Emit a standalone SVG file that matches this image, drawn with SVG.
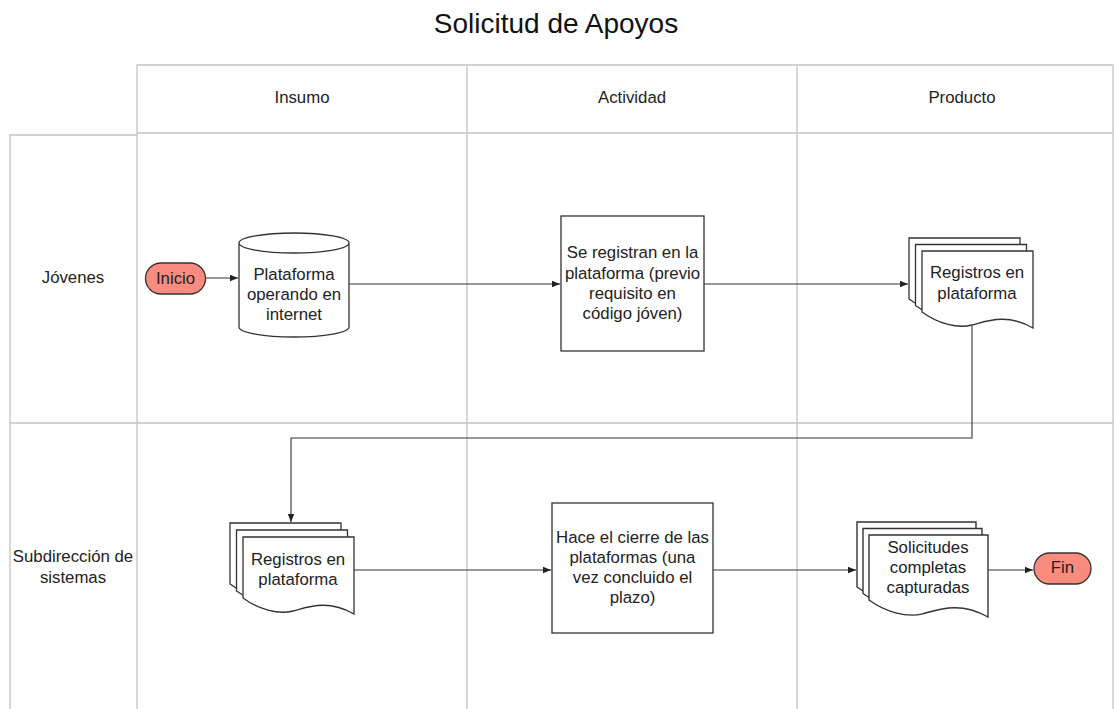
<svg xmlns="http://www.w3.org/2000/svg" xmlns:xlink="http://www.w3.org/1999/xlink" width="1114" height="709" viewBox="0 0 1114 709">
<style>
.grid{fill:none;stroke:#c4c4c4;stroke-width:1.3}
.shape{fill:#fff;stroke:#333;stroke-width:1.3}
.pill{fill:#fa8b7f;stroke:#333;stroke-width:1.3}
.t{font-family:"Liberation Sans",Arial,sans-serif;font-size:16.8px;fill:#222;text-anchor:middle}
.title{font-family:"Liberation Sans",Arial,sans-serif;font-size:28px;fill:#111;text-anchor:middle}
.conn{fill:none;stroke:#333;stroke-width:1.1}
</style>
<defs>
<marker id="arr" viewBox="0 0 10 10" refX="10" refY="5" markerWidth="8" markerHeight="8" markerUnits="userSpaceOnUse" orient="auto">
<path d="M0,1 L10,5 L0,9 Z" fill="#222"/>
</marker>
<path id="doc" d="M0,0 H111 V77 C85,62 65,70 50,74 C35,78 15,72 0,61 Z"/>
</defs>
<rect width="1114" height="709" fill="#fff"/>
<text class="title" x="556" y="33">Solicitud de Apoyos</text>
<g id="grid">
<path class="grid" d="M137,709 V65 H1113 V709 M137,133 H1113 M467,65 V709 M797,65 V709 M10,709 V135 H137 M10,423 H1113"/>
<text class="t" x="302" y="103">Insumo</text>
<text class="t" x="632" y="103">Actividad</text>
<text class="t" x="962" y="103">Producto</text>
<text class="t" x="73" y="283">Jóvenes</text>
<text class="t" x="73" y="562">Subdirección de</text>
<text class="t" x="73" y="583">sistemas</text>
</g>
<g id="connectors">
<path class="conn" d="M205,278 H238" marker-end="url(#arr)"/>
<path class="conn" d="M349,284 H560" marker-end="url(#arr)"/>
<path class="conn" d="M704,284 H908" marker-end="url(#arr)"/>
<path class="conn" d="M972,326 V438 H291 V522" marker-end="url(#arr)"/>
<path class="conn" d="M353,570 H551" marker-end="url(#arr)"/>
<path class="conn" d="M713,570 H856" marker-end="url(#arr)"/>
<path class="conn" d="M988,570 H1033" marker-end="url(#arr)"/>
</g>
<g id="inicio">
<rect class="pill" x="145.5" y="263" width="60" height="31" rx="15.5"/>
<text class="t" x="175.5" y="284">Inicio</text>
</g>
<g id="plataforma">
<path class="shape" d="M239,243 A55,10 0 0 1 349,243 V327 A55,10 0 0 1 239,327 Z M239,243 A55,10 0 0 0 349,243"/>
<text class="t" x="294" y="280">Plataforma</text>
<text class="t" x="294" y="300">operando en</text>
<text class="t" x="294" y="320">internet</text>
</g>
<g id="registran">
<rect class="shape" x="561" y="216" width="143" height="135"/>
<text class="t" x="632.5" y="258">Se registran en la</text>
<text class="t" x="632.5" y="279">plataforma (previo</text>
<text class="t" x="632.5" y="299">requisito en</text>
<text class="t" x="632.5" y="319">código jóven)</text>
</g>
<g id="registros1">
<use xlink:href="#doc" class="shape" transform="translate(909,238)"/>
<use xlink:href="#doc" class="shape" transform="translate(915.5,244.5)"/>
<use xlink:href="#doc" class="shape" transform="translate(922,251)"/>
<text class="t" x="977" y="278">Registros en</text>
<text class="t" x="977" y="299">plataforma</text>
</g>
<g id="registros2">
<use xlink:href="#doc" class="shape" transform="translate(230,523)"/>
<use xlink:href="#doc" class="shape" transform="translate(236.5,530)"/>
<use xlink:href="#doc" class="shape" transform="translate(243,537)"/>
<text class="t" x="298" y="565">Registros en</text>
<text class="t" x="298" y="585">plataforma</text>
</g>
<g id="cierre">
<rect class="shape" x="552" y="503" width="161" height="130"/>
<text class="t" x="632.5" y="543">Hace el cierre de las</text>
<text class="t" x="632.5" y="563">plataformas (una</text>
<text class="t" x="632.5" y="583">vez concluido el</text>
<text class="t" x="632.5" y="603">plazo)</text>
</g>
<g id="solicitudes">
<use xlink:href="#doc" class="shape" transform="translate(857,522) scale(1.072,1.065)"/>
<use xlink:href="#doc" class="shape" transform="translate(863,528.5) scale(1.072,1.065)"/>
<use xlink:href="#doc" class="shape" transform="translate(869,535) scale(1.072,1.065)"/>
<text class="t" x="928" y="553">Solicitudes</text>
<text class="t" x="928" y="573">completas</text>
<text class="t" x="928" y="593">capturadas</text>
</g>
<g id="fin">
<rect class="pill" x="1034" y="553" width="57" height="31" rx="15.5"/>
<text class="t" x="1062.5" y="573">Fin</text>
</g>
</svg>
